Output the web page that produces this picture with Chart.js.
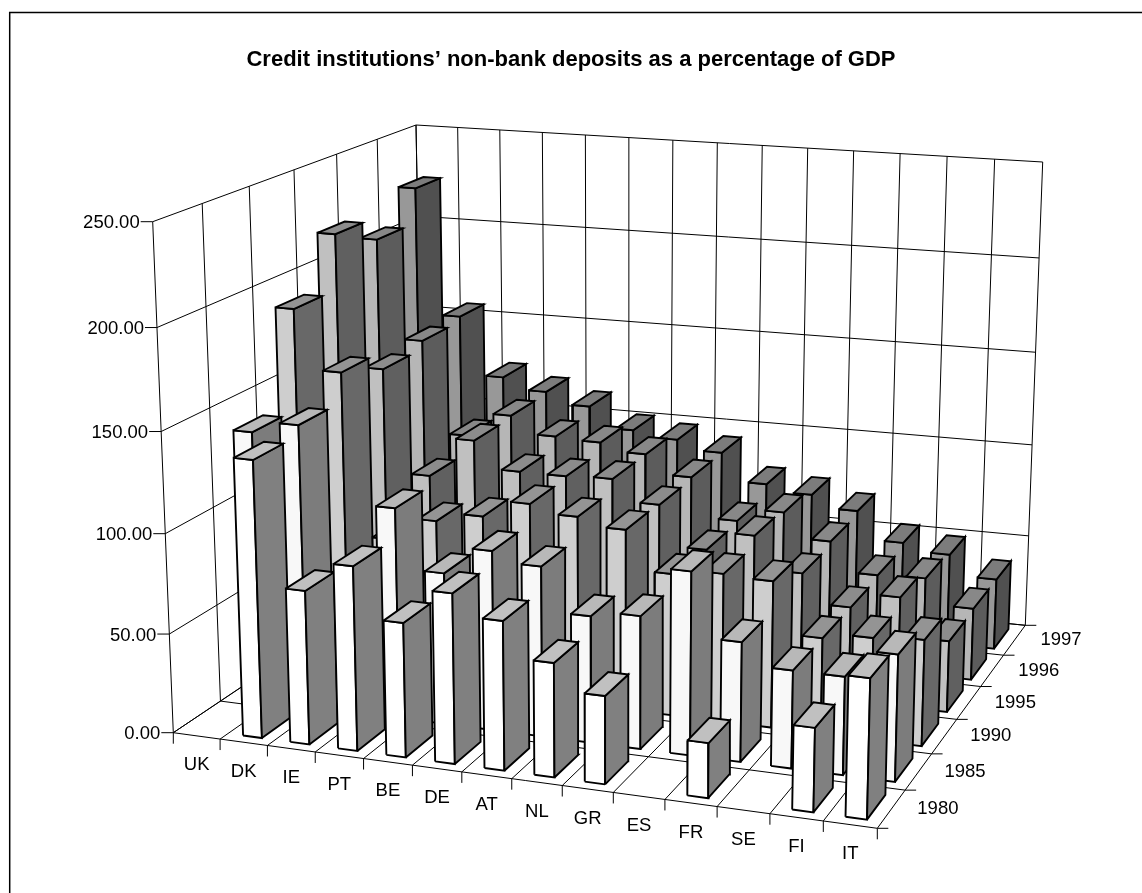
<!DOCTYPE html>
<html lang="en">
<head>
    <meta charset="UTF-8">
    <title>Credit institutions' non-bank deposits</title>
    <style>
        html, body { margin: 0; padding: 0; background: #fff; }
        #chart-container { width: 1142px; height: 893px; }
    </style>
</head>
<body>
    <div id="chart-container">
        <canvas id="depositChart"></canvas>
    </div>

    <script src="https://cdn.jsdelivr.net/npm/chart.js"></script>
    <script>
        // Data, null = no bar
        const countries = ['UK', 'DK', 'IE', 'PT', 'BE', 'DE', 'AT', 'NL', 'GR', 'ES', 'FR', 'SE', 'FI', 'IT'];
        const years = ['1980', '1985', '1990', '1995', '1996', '1997'];
        const valueTicks = [0, 50, 100, 150, 200, 250];
        const values1980 = [null, 138.5, 77, 92, 67, 84.5, 74, 56.5, 43.5, null, 27, null, 41, 68];
        const values1985 = [137.5, 143.5, 68, 107, 77, 91, 86, 64, 67, 92, 60, 49, 49, 63];
        const values1990 = [188.5, 158.5, 75, 87, 92, 101, 97, 93, 73, 76, 75, 49, 52, 54];
        const values1995 = [217, 149, 95, 116, 102, 102, 103, 92, 71, 81, 64, 49, 57, 37];
        const values1996 = [205, 153, 104, 117, 108, 107, 103, 93, 72, 79, 66, 50.5, 51.5, 38];
        const values1997 = [223.5, 155.5, 124, 118, 112, 101, 98, 93, 78, 74.5, 68, 53, 49, 38];
        const seriesValues = [values1980, values1985, values1990, values1995, values1996, values1997];

        // Face colours per year: front, side, top
        const faceColours = [
            ['#ffffff', '#808080', '#c0c0c0'],
            ['#f8f8f8', '#7c7c7c', '#b8b8b8'],
            ['#cecece', '#686868', '#949494'],
            ['#c0c0c0', '#606060', '#8c8c8c'],
            ['#b6b6b6', '#5c5c5c', '#888888'],
            ['#989898', '#505050', '#7c7c7c']
        ];

        // Picture positions of the floor and ceiling of the box: front left, front right, back right, back left
        const floorCorners = [[173.3, 732.7], [877.3, 828.3], [1025.3, 625.3], [424, 564.6]];
        const ceilingCorners = [[152.7, 221.7], [890, 288], [1042.7, 162], [416, 125]];
        const widthBend = 0.08, depthBend = 0.158, heightBend = 0.045;

        function onPlane(corners, u, w) {
            const [a, b, c, d] = corners;
            const mix = i => (a[i] * (1 - u) + b[i] * u) * (1 - w) + (d[i] * (1 - u) + c[i] * u) * w;
            return [mix(0), mix(1)];
        }

        const maxValue = valueTicks[valueTicks.length - 1];
        // category position, year position, value -> point in scale units
        function project(cat, yr, val) {
            let u = cat / countries.length, w = yr / years.length, h = val / maxValue;
            u = u / (1 + widthBend * (1 - u));
            w = w * (1 + depthBend) / (1 + depthBend * w);
            h = h / (1 + heightBend * (1 - h));
            const a = onPlane(floorCorners, u, w), b = onPlane(ceilingCorners, u, w);
            return { x: a[0] + (b[0] - a[0]) * h, y: a[1] + (b[1] - a[1]) * h };
        }

        function lineSet(points, width) {
            return { data: points, borderColor: '#000', borderWidth: width, backgroundColor: 'transparent' };
        }
        function faceSet(points, colour) {
            return {
                data: points.concat([points[0]]), borderColor: '#000', borderWidth: 1.9,
                backgroundColor: colour, isFace: true
            };
        }

        // Paint order: walls and floor, then bars from the back row forward, left to right
        const paintOrder = [];
        const nCat = countries.length, nYr = years.length;
        valueTicks.forEach(v => {
            paintOrder.push(lineSet([project(0, 0, v), project(0, nYr, v), project(nCat, nYr, v)], 1));
        });
        for (let c = 0; c <= nCat; c++) {
            paintOrder.push(lineSet([project(c, 0, 0), project(c, nYr, 0), project(c, nYr, maxValue)], 1));
        }
        for (let y = 0; y <= nYr; y++) {
            paintOrder.push(lineSet([project(0, y, maxValue), project(0, y, 0), project(nCat, y, 0)], 1));
        }
        const barLeft = 0.32, barRight = 0.72, barFront = 0.17, barBack = 0.82;
        for (let y = nYr - 1; y >= 0; y--) {
            seriesValues[y].forEach((v, c) => {
                if (v === null) return;
                const [front, side, top] = faceColours[y];
                const x0 = c + barLeft, x1 = c + barRight, z0 = y + barFront, z1 = y + barBack;
                paintOrder.push(faceSet([project(x0, z0, 0), project(x1, z0, 0), project(x1, z0, v), project(x0, z0, v)], front));
                paintOrder.push(faceSet([project(x1, z0, 0), project(x1, z1, 0), project(x1, z1, v), project(x1, z0, v)], side));
                paintOrder.push(faceSet([project(x0, z0, v), project(x1, z0, v), project(x1, z1, v), project(x0, z1, v)], top));
            });
        }

        // Fills each closed face just before its outline is stroked
        const faceFill = {
            id: 'faceFill',
            beforeDatasetDraw(chart, args) {
                const set = chart.data.datasets[args.index];
                if (!set.isFace) return;
                const pts = args.meta.data;
                const ctx = chart.ctx;
                ctx.save();
                ctx.beginPath();
                pts.forEach((p, i) => i ? ctx.lineTo(p.x, p.y) : ctx.moveTo(p.x, p.y));
                ctx.closePath();
                ctx.fillStyle = set.backgroundColor;
                ctx.fill();
                ctx.restore();
            }
        };

        // Frame, tick marks and the three sets of axis labels
        const axisLabels = {
            id: 'axisLabels',
            afterDatasetsDraw(chart) {
                const ctx = chart.ctx, sx = chart.scales.x, sy = chart.scales.y;
                const at = p => [sx.getPixelForValue(p.x), sy.getPixelForValue(p.y)];
                const mark = (p, dx, dy) => {
                    const [x, y] = at(p);
                    ctx.beginPath(); ctx.moveTo(x, y); ctx.lineTo(x + dx, y + dy); ctx.stroke();
                };
                ctx.save();
                ctx.strokeStyle = '#000';
                ctx.lineWidth = 1.5;
                ctx.beginPath();
                ctx.moveTo(9.7, 893); ctx.lineTo(9.7, 12.5); ctx.lineTo(1142, 12.5);
                ctx.stroke();
                ctx.lineWidth = 1;
                ctx.fillStyle = '#000';
                ctx.font = '18.5px "Liberation Sans"';
                ctx.textBaseline = 'middle';

                ctx.textAlign = 'right';
                valueTicks.forEach(v => {
                    const p = project(0, 0, v);
                    mark(p, -12, 0);
                    const [x, y] = at(p);
                    ctx.fillText(v.toFixed(2), x - 13, y + 1.5);
                });
                ctx.textAlign = 'center';
                countries.forEach((name, c) => {
                    const [x, y] = at(project(c + 0.5, 0, 0));
                    ctx.fillText(name, x, y + 29.5);
                });
                for (let c = 0; c <= nCat; c++) mark(project(c, 0, 0), 0, 11);
                years.forEach((name, r) => {
                    const [x, y] = at(project(nCat, r + 0.5, 0));
                    ctx.fillText(name, x + 46.5, y);
                });
                for (let r = 0; r <= nYr; r++) mark(project(nCat, r, 0), 11, 0);
                ctx.restore();
            }
        };

        // Scales run in picture pixels below the title block
        const titleBlock = 72;
        new Chart(document.getElementById('depositChart').getContext('2d'), {
            type: 'scatter',
            data: { datasets: paintOrder.slice().reverse() },
            plugins: [faceFill, axisLabels],
            options: {
                responsive: true,
                maintainAspectRatio: false,
                animation: false,
                events: [],
                elements: {
                    point: { radius: 0 },
                    line: { tension: 0, borderJoinStyle: 'miter', fill: false }
                },
                datasets: { scatter: { showLine: true, clip: false } },
                scales: {
                    x: { type: 'linear', display: false, min: 0, max: 1142 },
                    y: { type: 'linear', display: false, min: titleBlock, max: 893, reverse: true }
                },
                plugins: {
                    legend: { display: false },
                    tooltip: { enabled: false },
                    title: {
                        display: true,
                        text: 'Credit institutions’ non-bank deposits as a percentage of GDP',
                        color: '#000',
                        font: { family: '"Liberation Sans"', size: 22, weight: 'bold', lineHeight: 1 },
                        padding: { top: titleBlock - 23, bottom: 1 }
                    }
                }
            }
        });
    </script>
</body>
</html>
